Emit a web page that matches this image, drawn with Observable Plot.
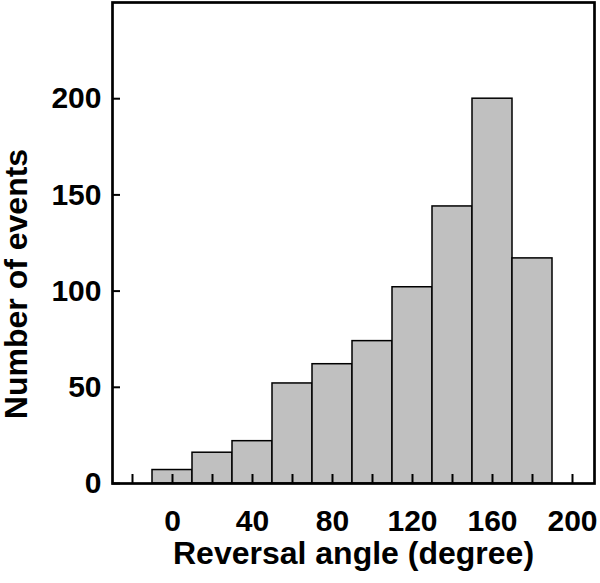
<!DOCTYPE html>
<html><head><meta charset="utf-8">
<script src="https://cdn.jsdelivr.net/npm/d3@7"></script>
<script src="https://cdn.jsdelivr.net/npm/@observablehq/plot@0.6"></script>
<style>html,body{margin:0;padding:0;background:#fff}</style>
</head><body><div id="chart"></div>
<script>
const binCenters = [0, 20, 40, 60, 80, 100, 120, 140, 160, 180];
const counts = [7, 16, 22, 52, 62, 74, 102, 144, 200, 117];
const binWidth = 20;
const xMinorTicks = [-20, 0, 20, 40, 60, 80, 100, 120, 140, 160, 180, 200];
const xLabelTicks = [0, 40, 80, 120, 160, 200];
const yTicks = [0, 50, 100, 150, 200];
const xTitle = "Reversal angle (degree)";
const yTitle = "Number of events";

const bins = binCenters.map((c, i) => ({x1: c - binWidth / 2, x2: c + binWidth / 2, count: counts[i]}));
const font = "'Liberation Sans', Arial, Helvetica, sans-serif";

const chart = Plot.plot({
  width: 600,
  height: 583,
  marginLeft: 112,
  marginRight: 6,
  marginTop: 2,
  marginBottom: 100,
  style: {fontFamily: font, fontWeight: "bold", color: "black", background: "white", overflow: "visible"},
  x: {domain: [-30, 211]},
  y: {domain: [0, 250]},
  marks: [
    Plot.rectY(bins, {x1: "x1", x2: "x2", y: "count", fill: "#c0c0c0", stroke: "black", strokeWidth: 1.5}),
    Plot.axisX({ticks: xMinorTicks, tickSize: 9, dy: -9, fill: "none", stroke: "black", strokeWidth: 2, label: null}),
    Plot.axisX({ticks: xLabelTicks, tickSize: 0, tickPadding: 26, fontSize: 30, fontWeight: "bold", fill: "black", label: null}),
    Plot.axisY({ticks: yTicks, tickSize: 8, dx: 8, fill: "none", stroke: "black", strokeWidth: 2, label: null}),
    Plot.axisY({ticks: yTicks, tickSize: 0, tickPadding: 11, fontSize: 30, fontWeight: "bold", fill: "black", label: null}),
    Plot.frame({stroke: "black", strokeWidth: 2.7}),
    Plot.text([xTitle], {text: d => d, frameAnchor: "bottom", lineAnchor: "middle", textAnchor: "middle", dy: 70, fontSize: 32, fontWeight: "bold", fill: "black"}),
    Plot.text([yTitle], {text: d => d, frameAnchor: "left", lineAnchor: "middle", textAnchor: "middle", rotate: -90, dx: -96, dy: 41, fontSize: 32, fontWeight: "bold", fill: "black"})
  ]
});
document.getElementById("chart").appendChild(chart);
</script>
</body></html>
